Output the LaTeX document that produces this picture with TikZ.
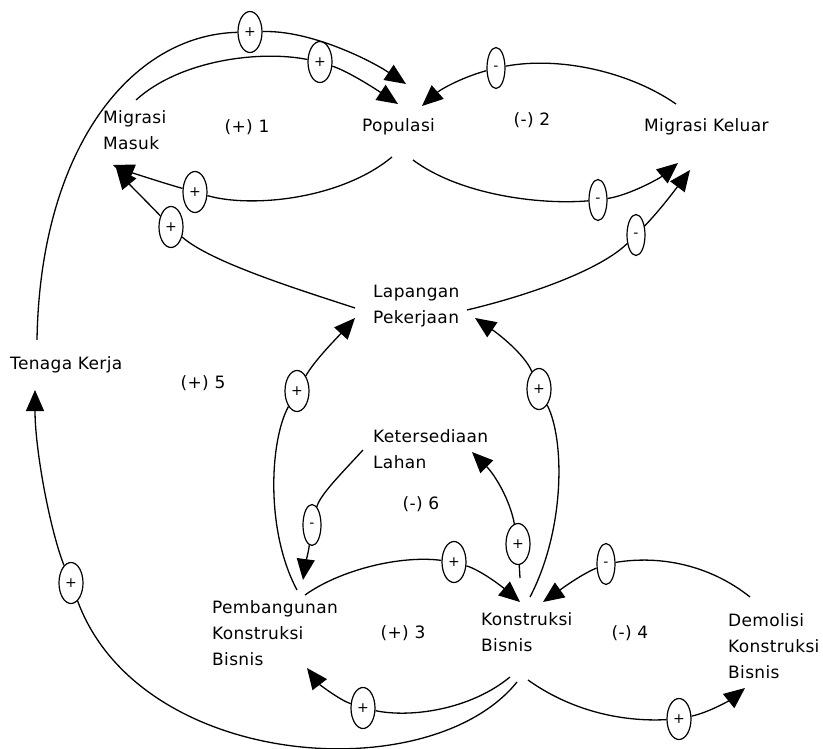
\documentclass[tikz,border=0pt]{standalone}
\usepackage{fontspec}
\setmainfont[LetterSpace=2]{DejaVu Sans}
\usetikzlibrary{arrows.meta,shapes.geometric}
\begin{document}
\begin{tikzpicture}[x=1pt,y=-1pt,
  lbl/.style={anchor=west,inner sep=0pt,align=left,font=\fontsize{17}{26}\selectfont},
  looplbl/.style={inner sep=0pt,font=\fontsize{17}{26}\selectfont},
  pol/.style={draw,ellipse,minimum width=24pt,minimum height=41pt,inner sep=0pt,line width=1.2pt,fill=white,font=\fontsize{14}{14}\selectfont},
  poln/.style={pol,minimum width=18pt},
  link/.style={line width=1.3pt},
  arr/.style={link,-{Triangle[length=21pt,width=18pt]}}]
\useasboundingbox (0,0) rectangle (823,749);

% variables
\node[lbl] (mm) at (103,130) {Migrasi\\Masuk};
\node[lbl] (pop) at (362,127) {Populasi};
\node[lbl] (mk) at (644,127) {Migrasi Keluar};
\node[lbl] (lp) at (373,306) {Lapangan\\Pekerjaan};
\node[lbl] (tk) at (10,365) {Tenaga Kerja};
\node[lbl] (kl) at (373,449) {Ketersediaan\\Lahan};
\node[lbl] (pb) at (212,633) {Pembangunan\\Konstruksi\\Bisnis};
\node[lbl] (kb) at (481,632) {Konstruksi\\Bisnis};
\node[lbl] (dk) at (728,646) {Demolisi\\Konstruksi\\Bisnis};

% loop labels
\node[looplbl] (l1) at (247,127) {(+) 1};
\node[looplbl] (l2) at (532,120) {(-) 2};
\node[looplbl] (l5) at (203,383) {(+) 5};
\node[looplbl] (l6) at (421,504) {(-) 6};
\node[looplbl] (l3) at (403,633) {(+) 3};
\node[looplbl] (l4) at (630,633) {(-) 4};

% connector end points
\coordinate (tk_t) at (37,340);
\coordinate (tk_b) at (35,390);
\coordinate (pop_a) at (406,84);
\coordinate (pop_b) at (398,104);
\coordinate (pop_r) at (422,106);
\coordinate (pop_bl) at (392,157);
\coordinate (pop_br) at (413,160);
\coordinate (mm_t) at (136,100);
\coordinate (mm_b) at (113,165);
\coordinate (mm_b2) at (116,168);
\coordinate (mk_tl) at (676,104);
\coordinate (mk_b) at (678,163);
\coordinate (mk_b2) at (690,170);
\coordinate (lp_l) at (355,308);
\coordinate (lp_r) at (467,310);
\coordinate (lp_bl) at (355,318);
\coordinate (lp_br) at (475,318);
\coordinate (kl_bl) at (363,450);
\coordinate (kl_b) at (472,452);
\coordinate (pb_t) at (297,590);
\coordinate (pb_t2) at (303,580);
\coordinate (pb_tr) at (305,595);
\coordinate (pb_b) at (307,668);
\coordinate (kb_t) at (530,597);
\coordinate (kb_t2) at (520,578);
\coordinate (kb_tl) at (520,602);
\coordinate (kb_tr) at (543,602);
\coordinate (kb_bl) at (510,677);
\coordinate (kb_bl2) at (517,682);
\coordinate (kb_br) at (528,680);
\coordinate (dk_t) at (750,597);
\coordinate (dk_b) at (745,688);

% polarity marks
\node[pol] (e1) at (250,32) {+};
\node[pol] (e2) at (320,62) {+};
\node[pol] (e3) at (195,192) {+};
\node[pol] (e4) at (171,227) {+};
\node[poln] (e5) at (496,68) {-};
\node[poln] (e6) at (598,200) {-};
\node[poln] (e7) at (636,235) {-};
\node[pol] (e8) at (297,391) {+};
\node[pol] (e9) at (539,389) {+};
\node[pol] (e10) at (518,544) {+};
\node[poln] (e11) at (312,525) {-};
\node[pol] (e12) at (454,562) {+};
\node[poln] (e13) at (606,564) {-};
\node[pol] (e14) at (363,708) {+};
\node[pol] (e15) at (71,583) {+};
\node[pol] (e16) at (679,719) {+};

% links
\draw[link] (tk_t) .. controls (40,150) and (130,35) .. (e1);
\draw[arr] (e1) .. controls (310,30) and (370,60) .. (pop_a);

\draw[link] (mm_t) .. controls (180,60) and (260,50) .. (e2);
\draw[arr] (e2) .. controls (350,72) and (380,92) .. (pop_b);

\draw[link] (pop_bl) .. controls (340,200) and (250,208) .. (e3);
\draw[arr] (e3) .. controls (160,182) and (130,172) .. (mm_b);

\draw[link] (lp_l) .. controls (300,290) and (210,262) .. (e4);
\draw[arr] (e4) .. controls (150,205) and (130,185) .. (mm_b2);

\draw[link] (mk_tl) .. controls (630,72) and (560,56) .. (e5);
\draw[arr] (e5) .. controls (460,78) and (440,90) .. (pop_r);

\draw[link] (pop_br) .. controls (460,195) and (540,205) .. (e6);
\draw[arr] (e6) .. controls (630,195) and (660,178) .. (mk_b);

\draw[link] (lp_r) .. controls (530,295) and (600,270) .. (e7);
\draw[arr] (e7) .. controls (660,210) and (675,190) .. (mk_b2);

\draw[link] (pb_t) .. controls (265,530) and (270,440) .. (e8);
\draw[arr] (e8) .. controls (315,360) and (335,340) .. (lp_bl);

\draw[link] (kb_t) .. controls (565,530) and (565,440) .. (e9);
\draw[arr] (e9) .. controls (525,355) and (500,335) .. (lp_br);

\draw[link] (kb_t2) -- (e10);
\draw[arr] (e10) .. controls (510,500) and (495,475) .. (kl_b);

\draw[link] (kl_bl) .. controls (340,475) and (320,495) .. (e11);
\draw[arr] (e11) .. controls (308,555) and (305,565) .. (pb_t2);

\draw[link] (pb_tr) .. controls (340,570) and (400,555) .. (e12);
\draw[arr] (e12) .. controls (480,570) and (500,585) .. (kb_tl);

\draw[link] (dk_t) .. controls (710,565) and (660,555) .. (e13);
\draw[arr] (e13) .. controls (580,575) and (560,590) .. (kb_tr);

\draw[link] (kb_bl) .. controls (470,710) and (410,718) .. (e14);
\draw[arr] (e14) .. controls (340,700) and (320,685) .. (pb_b);

\draw[link] (kb_bl2) .. controls (430,790) and (140,770) .. (e15);
\draw[arr] (e15) .. controls (50,530) and (35,450) .. (tk_b);

\draw[link] (kb_br) .. controls (570,710) and (620,722) .. (e16);
\draw[arr] (e16) .. controls (710,712) and (730,700) .. (dk_b);
\end{tikzpicture}
\end{document}
